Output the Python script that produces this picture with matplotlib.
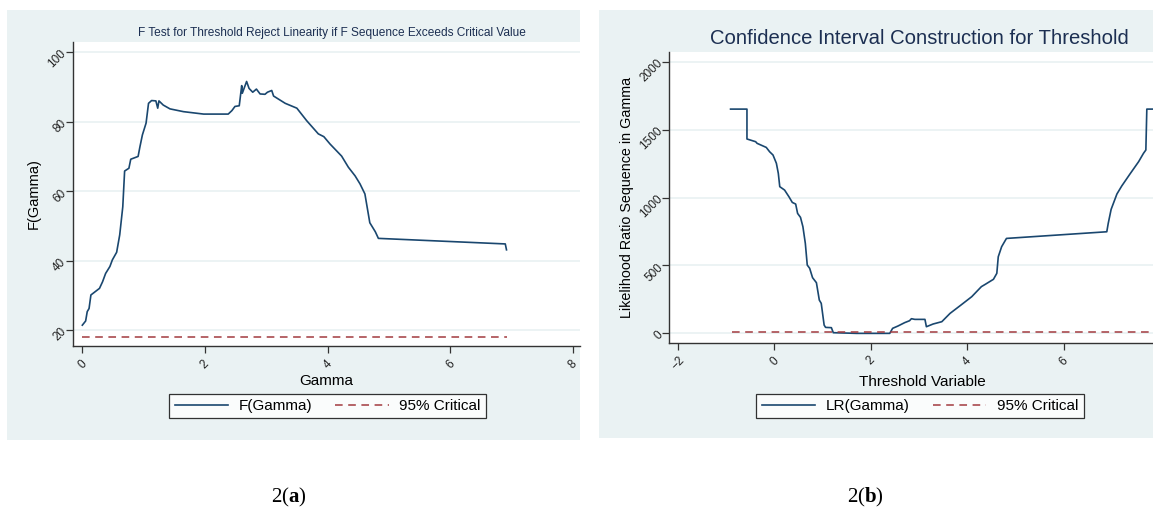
import matplotlib
matplotlib.use('Agg')
import matplotlib.pyplot as plt
from matplotlib.patches import Rectangle
from matplotlib.lines import Line2D

plt.rcParams['font.family'] = ['Liberation Sans', 'DejaVu Sans']
plt.rcParams['lines.scale_dashes'] = False
plt.rcParams['mathtext.fontset'] = 'custom'
plt.rcParams['mathtext.rm'] = 'Liberation Serif'
plt.rcParams['mathtext.bf'] = 'Liberation Serif:bold'

# F test sequence
gamma_f = [0.0, 0.054, 0.08, 0.11, 0.14, 0.28, 0.33, 0.38, 0.45, 0.49, 0.56, 0.61, 0.66, 0.69,
           0.76, 0.79, 0.91, 0.94, 0.98, 1.04, 1.08, 1.13, 1.20, 1.23, 1.25, 1.32, 1.43, 1.65,
           1.98, 2.38, 2.44, 2.49, 2.56, 2.60, 2.61, 2.68, 2.72, 2.78, 2.84, 2.90, 2.98, 3.02,
           3.09, 3.12, 3.31, 3.50, 3.66, 3.85, 3.94, 4.04, 4.23, 4.34, 4.45, 4.53, 4.61, 4.69,
           4.78, 4.83, 6.90, 6.92]
f_stat = [21.4, 22.6, 25.3, 26.2, 30.1, 32.0, 33.9, 36.3, 38.3, 40.2, 42.4, 47.4, 55.5, 65.8,
          66.6, 69.2, 70.0, 72.8, 76.2, 79.6, 85.3, 86.1, 86.0, 83.9, 86.0, 84.8, 83.7, 82.9,
          82.2, 82.2, 83.2, 84.4, 84.6, 90.4, 88.2, 91.6, 89.6, 88.5, 89.4, 88.0, 87.9, 88.5,
          89.0, 87.4, 85.3, 83.9, 80.3, 76.5, 75.7, 73.6, 70.1, 66.9, 64.4, 62.1, 59.2, 50.9,
          48.3, 46.4, 44.8, 43.1]
f_crit = 18.1
f_crit_range = [0.0, 6.92]

# Likelihood ratio sequence
gamma_lr = [-0.91, -0.57, -0.57, -0.39, -0.36, -0.17, -0.10, -0.03, 0.04, 0.08, 0.11, 0.21,
            0.30, 0.37, 0.44, 0.48, 0.54, 0.59, 0.64, 0.68, 0.73, 0.79, 0.87, 0.93, 0.97, 1.03,
            1.06, 1.18, 1.22, 1.70, 2.39, 2.45, 2.56, 2.70, 2.80, 2.84, 2.91, 3.12, 3.15, 3.29,
            3.47, 3.64, 3.85, 4.09, 4.29, 4.38, 4.54, 4.61, 4.64, 4.71, 4.81, 6.89, 6.92, 6.98,
            7.10, 7.20, 7.37, 7.55, 7.65, 7.70, 7.72, 8.30]
lr_stat = [1651, 1651, 1431, 1411, 1399, 1369, 1337, 1313, 1252, 1178, 1080, 1055, 1006, 964,
           952, 883, 854, 785, 663, 503, 479, 410, 373, 245, 221, 61, 44, 42, 5, 0, 0, 37, 54,
           79, 93, 108, 103, 103, 49, 69, 86, 147, 204, 270, 344, 363, 398, 442, 564, 638, 699,
           748, 810, 913, 1026, 1085, 1173, 1264, 1325, 1350, 1651, 1651]
lr_crit = 7.35
lr_crit_range = [-0.89, 8.30]

navy = '#1a476f'
maroon = '#a23a3f'
region = '#eaf2f3'
title_col = '#1c2f52'

fig = plt.figure(figsize=(11.53, 5.12), dpi=100)
W, H = 1153.0, 512.0


def px_rect(x0, y0, x1, y1):
    return [x0 / W, 1 - y1 / H, (x1 - x0) / W, (y1 - y0) / H]


for r in [(7, 10, 580, 440), (599, 10, 1153, 438)]:
    b = px_rect(*r)
    fig.patches.append(Rectangle((b[0], b[1]), b[2], b[3], transform=fig.transFigure,
                                 facecolor=region, edgecolor='none', zorder=-5))


def style(ax, yticks, xticks):
    ax.set_zorder(2)
    ax.set_facecolor('white')
    for s in ['top', 'right']:
        ax.spines[s].set_visible(False)
    for s in ['left', 'bottom']:
        ax.spines[s].set_color('#333333')
        ax.spines[s].set_linewidth(1.0)
    ax.set_yticks(yticks)
    ax.set_xticks(xticks)
    ax.tick_params(length=5, width=0.9, color='#333333', labelsize=8.5, labelcolor='#222222')
    ax.tick_params(axis='y', pad=1)
    for lab in ax.get_yticklabels():
        lab.set_rotation(45)
        lab.set_rotation_mode('anchor')
        lab.set_ha('right')
        lab.set_va('center')
    for lab in ax.get_xticklabels():
        lab.set_rotation(45)
    ax.grid(axis='y', color=region, linewidth=1.3)
    ax.set_axisbelow(True)


# panel (a)
ax1 = fig.add_axes(px_rect(72.7, 41.7, 580, 346))
ax1.plot(gamma_f, f_stat, color=navy, lw=1.2)
ax1.plot(f_crit_range, [f_crit, f_crit], color=maroon, lw=1.1, dashes=(5.5, 4))
ax1.set_xlim(-0.157, 8.119)
ax1.set_ylim(15.4, 103.05)
style(ax1, [20, 40, 60, 80, 100], [0, 2, 4, 6, 8])
ax1.set_xlabel('Gamma', fontsize=11, labelpad=2)
ax1.set_ylabel('F(Gamma)', fontsize=10.5, labelpad=4)
fig.text(332 / W, 1 - 33 / H, 'F Test for Threshold Reject Linearity if F Sequence Exceeds Critical Value',
         ha='center', va='center', fontsize=8.6, color=title_col)

# panel (b); the axis runs past the right edge of the figure
ax2 = fig.add_axes(px_rect(669.3, 51.7, 1174.8, 342.7))
ax2.plot(gamma_lr, lr_stat, color=navy, lw=1.2)
ax2.plot(lr_crit_range, [lr_crit, lr_crit], color=maroon, lw=1.1, dashes=(5.5, 4))
ax2.set_xlim(-2.18, 8.3)
ax2.set_ylim(-68.7, 2073.6)
style(ax2, [0, 500, 1000, 1500, 2000], [-2, 0, 2, 4, 6])
ax2.set_xlabel('Threshold Variable', fontsize=11, labelpad=2)
ax2.set_ylabel('Likelihood Ratio Sequence in Gamma', fontsize=10.3, labelpad=3)
fig.text(919 / W, 1 - 39 / H, 'Confidence Interval Construction for Threshold',
         ha='center', va='center', fontsize=14.6, color=title_col)

# legends
for names, cx in [(['F(Gamma)', '95% Critical'], 327.7), (['LR(Gamma)', '95% Critical'], 920)]:
    handles = [Line2D([], [], color=navy, lw=1.2),
               Line2D([], [], color=maroon, lw=1.1, dashes=(5.5, 4))]
    leg = fig.legend(handles, names, loc='center', bbox_to_anchor=(cx / W, 1 - 406 / H),
                     ncol=2, fontsize=11, frameon=True, fancybox=False, handlelength=3.5,
                     columnspacing=1.5, handletextpad=0.7, borderpad=0.35)
    leg.get_frame().set_edgecolor('black')
    leg.get_frame().set_linewidth(0.9)

fig.text(289 / W, 1 - 497 / H, r'2($\mathbf{a}$)', ha='center', va='center', fontsize=15,
         family='Liberation Serif')
fig.text(865 / W, 1 - 497 / H, r'2($\mathbf{b}$)', ha='center', va='center', fontsize=15,
         family='Liberation Serif')

fig.savefig('out.png', dpi=100, facecolor='white')
